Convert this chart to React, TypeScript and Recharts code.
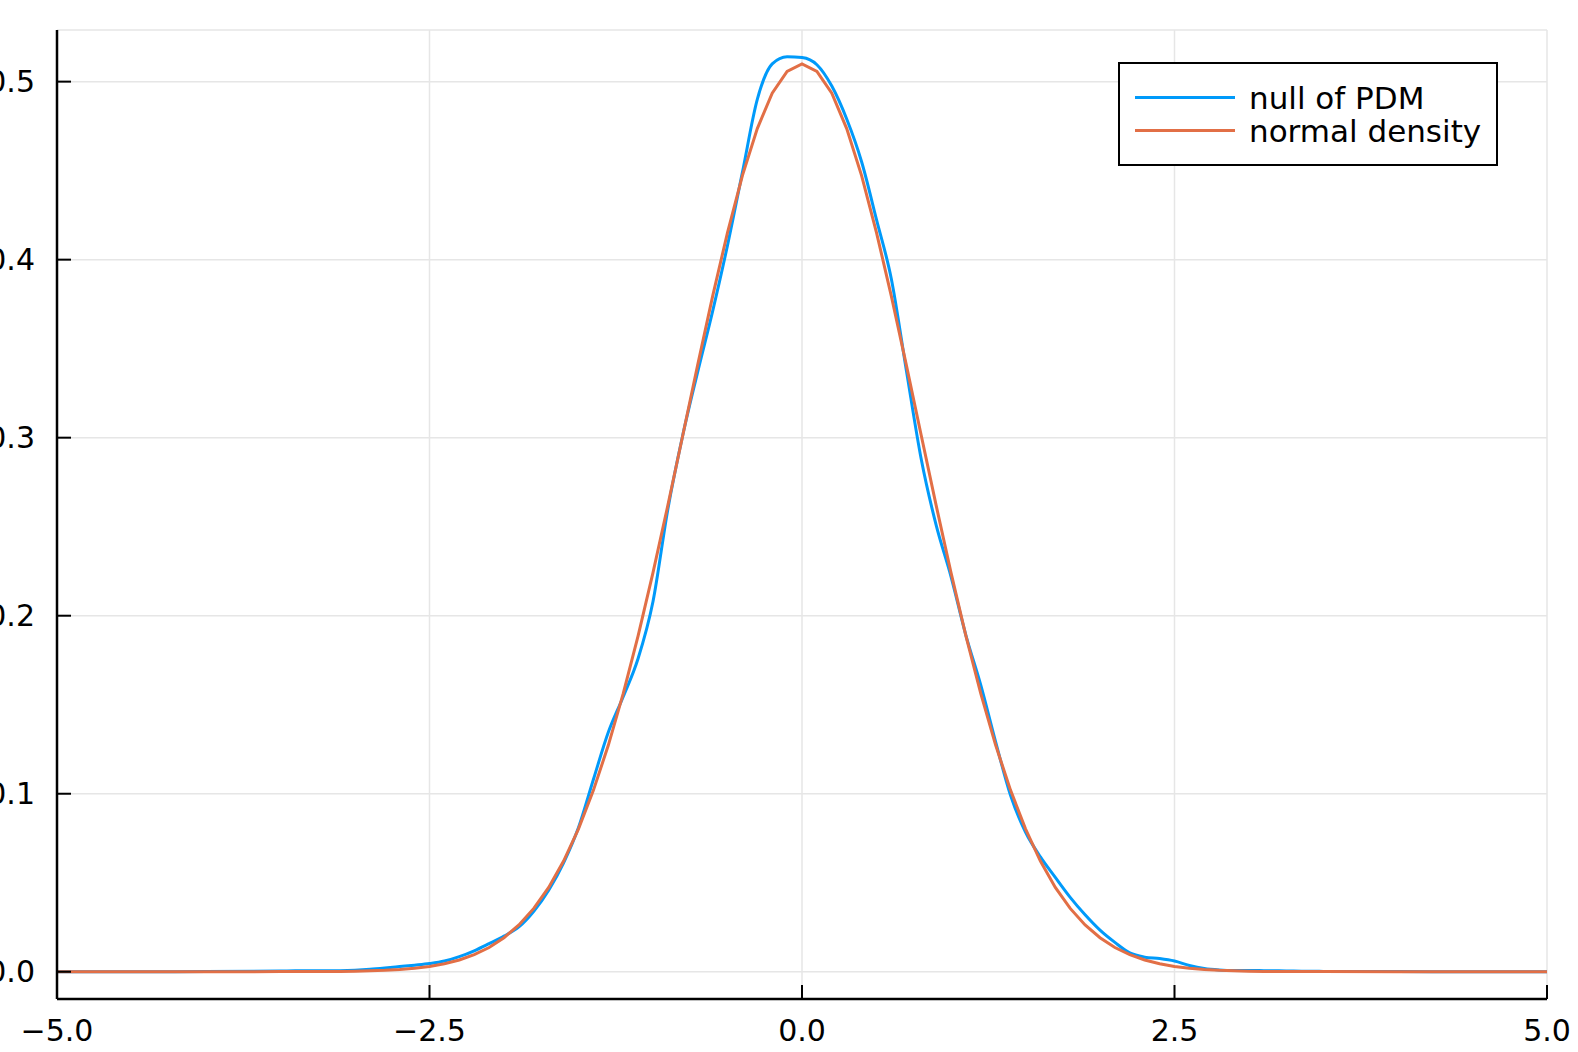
import {
  LineChart,
  Line,
  XAxis,
  YAxis,
  CartesianGrid,
  Legend,
} from "recharts";

const xValues = [
  -5, -4.5, -4, -3.5,
  -3.4, -3.3, -3.2, -3.1, -3.0, -2.9, -2.8, -2.7, -2.6, -2.5,
  -2.4, -2.3, -2.2, -2.1, -2.0, -1.9, -1.8, -1.7, -1.6, -1.5,
  -1.4, -1.3, -1.2, -1.1, -1.0, -0.9, -0.8, -0.7, -0.6, -0.5,
  -0.4, -0.3, -0.2, -0.1, 0.0, 0.1, 0.2, 0.3, 0.4, 0.5,
  0.6, 0.7, 0.8, 0.9, 1.0, 1.1, 1.2, 1.3, 1.4, 1.5,
  1.6, 1.7, 1.8, 1.9, 2.0, 2.1, 2.2, 2.3, 2.4, 2.5,
  2.6, 2.7, 2.8, 2.9, 3.0, 3.1, 3.2, 3.3, 3.4,
  3.5, 4, 4.5, 5,
];

// blue: kernel density of the PDM null
const nullOfPdm = [
  0, 0, 0.0001, 0.0004,
  0.0006, 0.0006, 0.0005, 0.0006, 0.0009, 0.0014, 0.0021, 0.0029, 0.0037, 0.0046,
  0.006, 0.0085, 0.0118, 0.0158, 0.02, 0.0252, 0.034, 0.0458, 0.0612, 0.081,
  0.108, 0.1345, 0.1545, 0.176, 0.208, 0.26, 0.3015, 0.337, 0.371, 0.408,
  0.449, 0.49, 0.51, 0.514, 0.5135, 0.5095, 0.4975, 0.479, 0.455, 0.4225,
  0.389, 0.338, 0.288, 0.251, 0.222, 0.189, 0.161, 0.129, 0.099, 0.0785,
  0.0645, 0.053, 0.0418, 0.032, 0.0234, 0.0165, 0.0106, 0.0082, 0.0074, 0.006,
  0.0035, 0.0018, 0.001, 0.0007, 0.0007, 0.0006, 0.0005, 0.0004, 0.0003,
  0.0002, 0.0001, 0, 0,
];

// orange: normal density
const normalDensity = [
  0, 0, 0, 0.0001,
  0.0001, 0.0001, 0.0001, 0.0002, 0.0003, 0.0005, 0.0008, 0.0013, 0.002, 0.003,
  0.0045, 0.0066, 0.0096, 0.0136, 0.0191, 0.0263, 0.0356, 0.0474, 0.0622, 0.0803,
  0.1019, 0.1272, 0.1562, 0.1887, 0.2242, 0.2621, 0.3014, 0.3409, 0.3794, 0.4152,
  0.4472, 0.4736, 0.4935, 0.5058, 0.51, 0.5058, 0.4935, 0.4736, 0.4472, 0.4152,
  0.3794, 0.3409, 0.3014, 0.2621, 0.2242, 0.1887, 0.1562, 0.1272, 0.1019, 0.0803,
  0.0622, 0.0474, 0.0356, 0.0263, 0.0191, 0.0136, 0.0096, 0.0066, 0.0045, 0.003,
  0.002, 0.0013, 0.0008, 0.0005, 0.0003, 0.0002, 0.0001, 0.0001, 0.0001,
  0.0001, 0, 0, 0,
];

const seriesNames = ["null of PDM", "normal density"];
const xTicks = [-5, -2.5, 0, 2.5, 5];
const yTicks = [0, 0.1, 0.2, 0.3, 0.4, 0.5];

const data = xValues.map((x, i) => ({
  x,
  pdm: nullOfPdm[i],
  normal: normalDensity[i],
}));

const FONT = "'DejaVu Sans', sans-serif";

const fmt = (v: number) => (v < 0 ? "\u2212" : "") + Math.abs(v).toFixed(1);

// plots-style framed legend, entries kept in series order
const LegendBox = (props: any) => {
  const items = [...(props.payload || [])].sort(
    (a: any, b: any) => seriesNames.indexOf(a.value) - seriesNames.indexOf(b.value)
  );
  return (
    <div
      style={{
        width: 380,
        height: 104,
        boxSizing: "border-box",
        border: "2.5px solid #000",
        background: "#fff",
        position: "relative",
        fontFamily: FONT,
        fontSize: 31,
        color: "#000",
      }}
    >
      {items.map((item: any, i: number) => (
        <div
          key={item.value}
          style={{
            position: "absolute",
            left: 15,
            top: 17 + i * 33,
            height: 33,
            display: "flex",
            alignItems: "center",
            whiteSpace: "nowrap",
          }}
        >
          <div
            style={{ width: 100, height: 3, background: item.color, marginRight: 14 }}
          />
          <span>{item.value}</span>
        </div>
      ))}
    </div>
  );
};

const App = () => {
  return (
    <div style={{ position: "absolute", left: 0, top: 0, width: 1578, height: 1052, background: "#fff" }}>
      <LineChart
        width={1578}
        height={1052}
        data={data}
        margin={{ top: 30, right: 31, bottom: 0, left: 0 }}
      >
        <CartesianGrid stroke="#e6e6e6" strokeWidth={1.5} />
        <XAxis
          dataKey="x"
          type="number"
          domain={[-5, 5]}
          ticks={xTicks}
          tickFormatter={fmt}
          height={53}
          tickSize={-14}
          tickMargin={35}
          axisLine={{ stroke: "#000", strokeWidth: 2.5 }}
          tickLine={{ stroke: "#000", strokeWidth: 2 }}
          tick={{ fill: "#000", fontSize: 30, fontFamily: FONT }}
          allowDataOverflow
        />
        <YAxis
          type="number"
          domain={[-0.0153, 0.529]}
          ticks={yTicks}
          tickFormatter={(v: number) => v.toFixed(1)}
          width={57}
          tickSize={-14}
          tickMargin={36}
          axisLine={{ stroke: "#000", strokeWidth: 2.5 }}
          tickLine={{ stroke: "#000", strokeWidth: 2 }}
          tick={{ fill: "#000", fontSize: 30, fontFamily: FONT }}
          allowDataOverflow
        />
        <Legend
          layout="vertical"
          align="center"
          verticalAlign="middle"
          content={<LegendBox />}
          wrapperStyle={{ position: "absolute", left: 1118, top: 62, width: 380, height: 104 }}
        />
        <Line
          name={seriesNames[0]}
          dataKey="pdm"
          type="monotone"
          stroke="#009AFA"
          strokeWidth={3}
          dot={false}
          isAnimationActive={false}
        />
        <Line
          name={seriesNames[1]}
          dataKey="normal"
          type="linear"
          stroke="#E26F46"
          strokeWidth={3}
          dot={false}
          isAnimationActive={false}
        />
      </LineChart>
    </div>
  );
};

export default App;
